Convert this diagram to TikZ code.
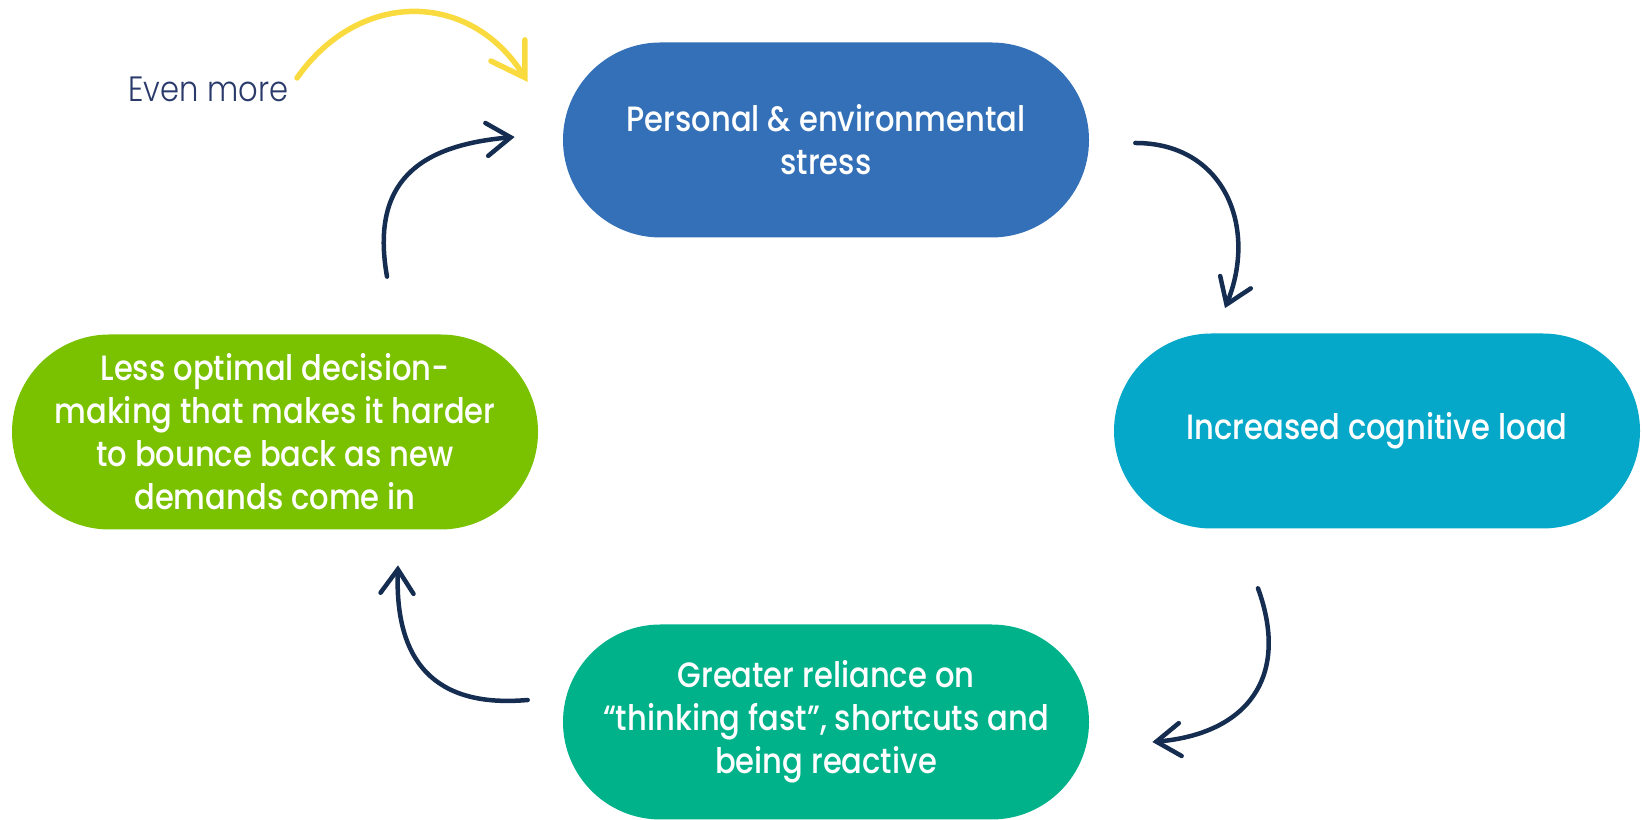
\documentclass[tikz,border=0pt]{standalone}
\usepackage{fontspec}
\setmainfont{Poppins}[UprightFont=* Medium, FakeStretch=0.87]
\newfontfamily\thinfont{Poppins}[UprightFont=* Light, FakeStretch=0.87]
\usetikzlibrary{shapes.misc, arrows.meta}

\definecolor{stressblue}{HTML}{3370B7}
\definecolor{loadcyan}{HTML}{05A8C8}
\definecolor{fastgreen}{HTML}{00B28A}
\definecolor{lesslime}{HTML}{7AC100}
\definecolor{cyclenavy}{HTML}{142D50}
\definecolor{moreyellow}{HTML}{FADB3F}
\definecolor{moretext}{HTML}{2A3A6A}

\tikzset{
  phase/.style={rounded rectangle, fill=#1, text=white, minimum width=105.2mm, minimum height=39mm, inner sep=0pt, align=center, font=\fontsize{20}{24.5}\selectfont}, % one stage of the cycle
  cyclearrow/.style={draw=cyclenavy, line width=0.9mm, line cap=round, -{Straight Barb[length=4.8mm, width=6.6mm, line cap=round]}},
  morearrow/.style={draw=moreyellow, line width=1.1mm, line cap=round, -{Straight Barb[length=6.4mm, width=8mm, line cap=round]}},
}

\begin{document}
\begin{tikzpicture}[x=0.2mm, y=0.2mm]
  \useasboundingbox (0,0) rectangle (1642,820);

  \node[phase=stressblue] (stress) at (826,680) {Personal \& environmental\\stress};
  \node[phase=loadcyan]   (load)   at (1377,389) {Increased cognitive load};
  \node[phase=fastgreen]  (fast)   at (826,98)  {Greater reliance on\\``thinking fast'', shortcuts and\\being reactive};
  \node[phase=lesslime]   (less)   at (275,388) {Less optimal decision-\\making that makes it harder\\to bounce back as new\\demands come in};

  \node[anchor=base west, text=moretext, font=\thinfont\fontsize{20}{24.5}\selectfont, inner sep=0pt] (more) at (128,718) {Even more};
  \coordinate (morestart) at (297,742);

  % the loop, clockwise
  \draw[cyclearrow] ([shift={(46,-3)}]stress.east) to[out=0, in=68, looseness=1.2] ([shift={(-152,25)}]load.north);
  \draw[cyclearrow] ([shift={(-119,-59.5)}]load.south) to[out=-70, in=5, looseness=1.3] ([shift={(63,-20)}]fast.east);
  \draw[cyclearrow] ([shift={(-35,22)}]fast.west) to[out=185, in=-92, looseness=1.3] ([shift={(123,-35.5)}]less.south);
  \draw[cyclearrow] ([shift={(112,57.5)}]less.north) to[out=100, in=185, looseness=1.3] ([shift={(-48,3)}]stress.west);

  \draw[morearrow] (morestart) to[out=55, in=122, looseness=1.2] ([shift={(-35,58)}]stress.west);
\end{tikzpicture}
\end{document}
